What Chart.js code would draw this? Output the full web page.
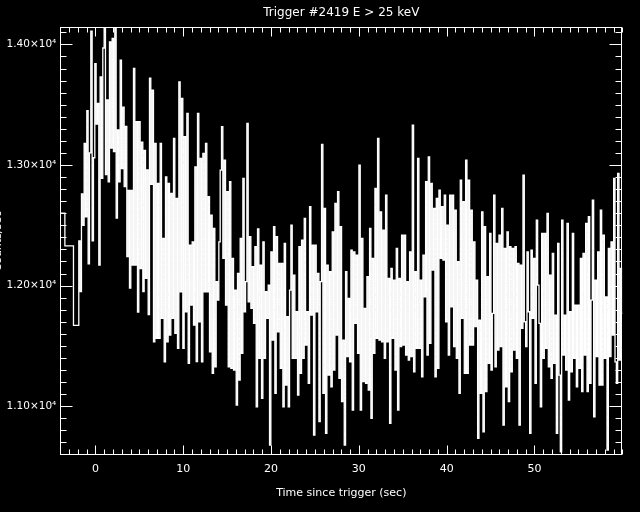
<!DOCTYPE html>
<html><head><meta charset="utf-8">
<script src="https://cdn.jsdelivr.net/npm/chart.js@4.4.0/dist/chart.umd.min.js"></script>
<style>html,body{margin:0;padding:0;background:#000;overflow:hidden}#wrap{width:640px;height:512px}</style>
</head><body><div id="wrap"><canvas id="c" width="640" height="512"></canvas></div>
<script>
const titleText = 'Trigger #2419 E > 25 keV';
const xTitle = 'Time since trigger (sec)';
const yTitle = 'Counts/sec';
const xMajorTicks = [0, 10, 20, 30, 40, 50];
const yMajorTicks = [11000, 12000, 13000, 14000];
const xMinorStep = 1;
const yMinorStep = 100;
const xRange = [-4, 60];
const yRange = [10595, 14141];

// pre-trigger coarse bins (left edge, counts/sec)
const preTimes = [-4.0, -3.48, -2.50];
const preRates = [12600, 12330, 11670];

// fine-resolution bins (left edge of first bin, bin width in s)
const fineStart = -1.894;
const fineWidth = 0.1519;

const ratesA = [12370, 11950, 12760, 12500, 13180, 12570, 13450, 12180, 13100, 14110,
  12370, 13060, 13840, 13340, 13510, 12170, 13730, 12890, 13970, 14130,
  12920, 13540, 12860, 14020, 13140, 14050, 13110, 14130, 12560, 13290,
  12860, 13870, 12970, 13480, 12820, 13320, 12240, 12790, 11980, 12790,
  12170, 13800, 12170, 13360, 11780, 13360, 12140, 13190, 11950, 13120,
  12060, 12960, 11760, 13720, 12840, 13620];
const ratesB = [11534, 13179, 11562, 12847, 11562, 13179, 11728, 12391, 11368, 12902,
  11534, 12847, 11590, 12764, 11728, 13220, 11603, 12723, 11479, 13690,
  11949, 13552, 11479, 13234, 11783, 13428, 11355, 12336, 11838, 12363,
  11672, 12985, 11370, 13428, 11700, 13054, 11368, 13096, 11949, 13179,
  11949, 12737, 11451, 12585, 11272, 12474, 11327, 12032, 11880, 12363,
  12958, 13317, 12225, 13041, 11838, 12778, 11327, 12861, 11313, 12225,
  11299, 11963, 11009, 12101, 11216, 12391, 11437];
const ratesC = [12889, 11783, 12032, 13345, 11866, 12405, 11811, 12156, 11686, 12322,
  10995, 12470, 11396, 12170, 11064, 12363, 11396, 11949, 11728, 12004,
  10678, 12280, 11548, 12488, 11106, 12405, 11617, 12184, 11313, 12184,
  10995, 12350, 11175, 11742, 10995, 11963, 12502, 11396, 12087, 11396,
  11783, 11092, 12322, 11272, 12377, 11396, 12557, 11507, 11783, 11189,
  12654, 11755, 12336, 10760, 12336, 11783, 12101, 10871, 12032, 13171,
  11106, 12640, 10774, 12170, 11258, 12115, 11161, 12446, 11299];
const ratesD = [12681, 11590, 12778, 11230, 12488, 11037, 11548, 10678, 12115, 11410,
  11894, 11368, 12294, 10968, 12280, 11686, 12253, 11437, 12999, 10968,
  12391, 11203, 11811, 11189, 12073, 11133, 12474, 10899, 12225, 11437,
  12806, 11562, 13220, 11548, 12612, 11534, 12460, 11396, 12750, 11534,
  12059, 10857, 12142, 11562, 12046, 11299, 12308, 10968, 12059, 11493,
  12419, 11507, 12419, 11424, 12032, 11382, 12280, 11410, 13331, 11285,
  12115, 11479, 13054, 11479, 12046, 11244, 12253, 11907, 12861];
const ratesE = [11424, 13068, 11520, 12847, 12128, 12640, 11244, 12723, 11313, 12792,
  12225, 12654, 12211, 12750, 11700, 12502, 11424, 12750, 11824, 12750,
  11493, 12626, 11396, 12198, 11106, 12875, 11728, 12695, 11272, 13041,
  11272, 12875, 11507, 12626, 11507, 12363, 11659, 12046, 10733, 11714,
  11106, 12612, 10788, 12488, 11120, 12073, 11355, 12433, 11299, 11769,
  12750, 11327, 12350, 11465, 12419, 11493, 12640, 10843, 12308, 11161,
  12446, 11037, 12322, 11285, 12308, 11465, 12322, 11396, 12184];
const ratesF = [10843, 12170, 11645, 12916, 11700, 11493, 12280, 11783, 10774, 12294,
  11728, 12225, 11189, 12543, 12004, 11686, 10995, 12433, 11396, 12433,
  11479, 12598, 11327, 12087, 11230, 12267, 11355, 11755, 10774, 12350,
  11258, 10622, 12543, 11424, 11755, 11299, 12515, 11051, 11783, 11285,
  12433, 11396, 11838, 11161, 11838, 11313, 12225, 11120, 12267, 11424,
  12515, 11120, 12571, 11189, 11880, 12709, 10912, 12046, 11410, 12280,
  11175, 12626, 11175, 12419, 11396, 11907, 10636, 12308, 11410, 12363,
  11590, 12889, 11368, 11189, 12930, 11382, 12142, 11769];

const fineRates = [...ratesA, ...ratesB, ...ratesC, ...ratesD, ...ratesE, ...ratesF];
const points = [];
preTimes.forEach((t, i) => points.push({x: t, y: preRates[i]}));
fineRates.forEach((v, i) => points.push({x: fineStart + i * fineWidth, y: v}));
points.push({x: fineStart + fineRates.length * fineWidth, y: fineRates[fineRates.length - 1]});

const fontMain = 'DejaVu Sans';

const framePlugin = {
  id: 'frame',
  beforeDraw(chart) {
    const c = chart.ctx;
    c.save(); c.fillStyle = '#000'; c.fillRect(0, 0, chart.width, chart.height); c.restore();
  },
  beforeDatasetsDraw(chart) {
    const {ctx, chartArea: a, scales: {x, y}} = chart;
    ctx.save();
    ctx.strokeStyle = '#fff';
    ctx.lineWidth = 1;
    const L = Math.round(a.left) + 0.5, R = Math.round(a.right) - 0.5;
    const T = Math.round(a.top) + 0.5, B = Math.round(a.bottom) - 0.5;
    ctx.strokeRect(L, T, R - L, B - T);
    ctx.beginPath();
    for (let t = xRange[0]; t <= xRange[1]; t += xMinorStep) {
      const px = Math.round(x.getPixelForValue(t)) + 0.5;
      const len = xMajorTicks.includes(t) ? 9 : 5;
      ctx.moveTo(px, B); ctx.lineTo(px, B - len);
      ctx.moveTo(px, T); ctx.lineTo(px, T + len);
    }
    for (let v = Math.ceil(yRange[0] / yMinorStep) * yMinorStep; v <= yRange[1]; v += yMinorStep) {
      const py = Math.round(y.getPixelForValue(v)) + 0.5;
      const len = yMajorTicks.includes(v) ? 12 : 6;
      ctx.moveTo(L, py); ctx.lineTo(L + len, py);
      ctx.moveTo(R, py); ctx.lineTo(R - len, py);
    }
    ctx.stroke();
    ctx.restore();
  }
};

new Chart(document.getElementById('c'), {
  type: 'line',
  data: {
    datasets: [{
      data: points,
      borderColor: '#ffffff',
      borderWidth: 1.3,
      borderJoinStyle: 'miter',
      stepped: true,
      pointRadius: 0,
      fill: false,
      tension: 0,
      clip: 0
    }]
  },
  options: {
    responsive: false,
    animation: false,
    devicePixelRatio: 1,
    parsing: false,
    normalized: true,
    layout: {padding: {left: 0, right: 17.7, top: 0, bottom: 0}},
    plugins: {
      legend: {display: false},
      tooltip: {enabled: false},
      title: {
        display: true, text: titleText, color: '#ffffff', fullSize: false,
        font: {family: fontMain, size: 12, weight: 'normal'},
        padding: {top: 6, bottom: 7}
      }
    },
    scales: {
      x: {
        type: 'linear', min: xRange[0], max: xRange[1],
        afterBuildTicks: s => { s.ticks = xMajorTicks.map(v => ({value: v})); },
        afterFit: s => { s.height = 57; },
        grid: {display: false, drawTicks: false},
        border: {display: false},
        ticks: {color: '#ffffff', font: {family: fontMain, size: 11}, padding: 8, maxRotation: 0, autoSkip: false,
                callback: v => String(v)},
        title: {display: true, text: xTitle, color: '#ffffff', font: {family: fontMain, size: 11},
                padding: {top: 0, bottom: 12}}
      },
      y: {
        type: 'linear', min: yRange[0], max: yRange[1],
        afterBuildTicks: s => { s.ticks = yMajorTicks.map(v => ({value: v})); },
        afterFit: s => { s.width = 60.3; },
        grid: {display: false, drawTicks: false},
        border: {display: false},
        ticks: {color: '#ffffff', font: {family: fontMain, size: 10.5}, padding: 4, autoSkip: false,
                callback: v => (v / 10000).toFixed(2) + '×10⁴'},
        title: {display: true, text: yTitle, color: '#ffffff', font: {family: fontMain, size: 11},
                padding: {top: -8, bottom: 0}}
      }
    }
  },
  plugins: [framePlugin]
});
</script>
</body></html>
